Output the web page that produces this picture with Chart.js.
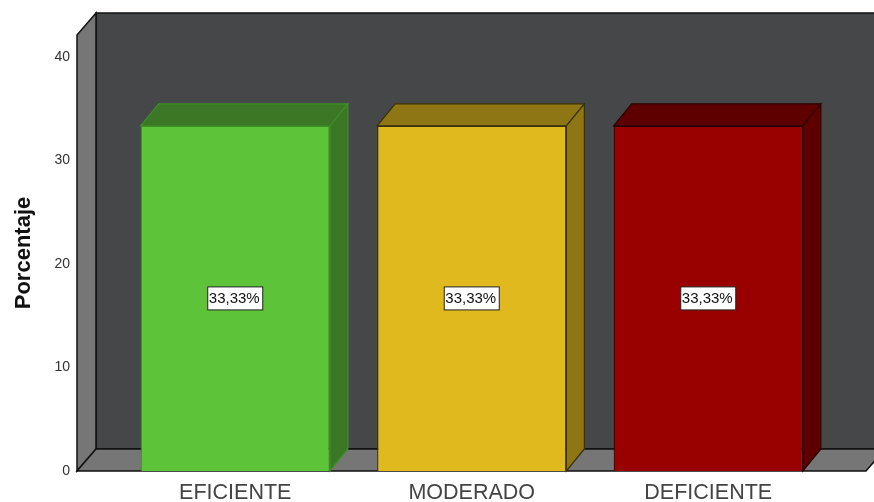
<!DOCTYPE html>
<html>
<head>
<meta charset="utf-8">
<style>
    html, body { margin: 0; padding: 0; background: #fff; overflow: hidden; }
    #wrap { width: 874px; height: 502px; }
</style>
<script src="https://cdn.jsdelivr.net/npm/chart.js@4/dist/chart.umd.min.js"></script>
</head>
<body>
<div id="wrap"><canvas id="myChart" width="874" height="502"></canvas></div>
<script>
const categories = ['EFICIENTE', 'MODERADO', 'DEFICIENTE'];
const porcentaje = [33.33, 33.33, 33.33];
const valueLabels = ['33,33%', '33,33%', '33,33%'];
const yTicks = [0, 10, 20, 30, 40];
const frontColors = ['#5dc339', '#e0b91e', '#990000'];
const sideColors = ['#3b7724', '#8e7614', '#5f0000'];
const edgeColors = ['#3f8f28', '#3a3008', '#2a0000'];

const depthX = 19;
const depthY = 22;
const barDepthX = 18;
const floorLeft = 77;
const floorRight = 866;

function poly(ctx, pts, fill, stroke, lw) {
    ctx.beginPath();
    pts.forEach((p, i) => i ? ctx.lineTo(p[0], p[1]) : ctx.moveTo(p[0], p[1]));
    ctx.closePath();
    ctx.fillStyle = fill;
    ctx.fill();
    ctx.strokeStyle = stroke;
    ctx.lineWidth = lw;
    ctx.stroke();
}

// SPSS style box: back wall, left wall, floor and the bar depth faces
const box3d = {
    id: 'box3d',
    beforeDatasetsDraw(chart) {
        const ctx = chart.ctx;
        const top = chart.chartArea.top;
        const bottom = chart.chartArea.bottom;
        ctx.save();
        poly(ctx, [[floorLeft + depthX, top - depthY], [900, top - depthY], [900, bottom - depthY], [floorLeft + depthX, bottom - depthY]], '#464749', '#111', 1.5);
        poly(ctx, [[floorLeft, top], [floorLeft + depthX, top - depthY], [floorLeft + depthX, bottom - depthY], [floorLeft, bottom]], '#767676', '#111', 1.5);
        poly(ctx, [[floorLeft, bottom], [floorLeft + depthX, bottom - depthY], [floorRight + depthX, bottom - depthY], [floorRight, bottom]], '#767676', '#111', 1.5);

        chart.getDatasetMeta(0).data.forEach((bar, i) => {
            const l = bar.x - bar.width / 2;
            const r = bar.x + bar.width / 2;
            const t = bar.y;
            const b = bar.base;
            poly(ctx, [[l, t], [l + barDepthX, t - depthY], [r + barDepthX, t - depthY], [r, t]], sideColors[i], edgeColors[i], 1.2);
            poly(ctx, [[r, t], [r + barDepthX, t - depthY], [r + barDepthX, b - depthY], [r, b]], sideColors[i], edgeColors[i], 1.2);
        });
        ctx.restore();
    },
    afterDatasetsDraw(chart) {
        const ctx = chart.ctx;
        ctx.save();
        ctx.font = '15px "Liberation Sans", Arial, sans-serif';
        ctx.textAlign = 'center';
        ctx.textBaseline = 'middle';
        chart.getDatasetMeta(0).data.forEach((bar, i) => {
            const my = (bar.y + bar.base) / 2;
            ctx.fillStyle = '#fff';
            ctx.strokeStyle = '#222';
            ctx.lineWidth = 1;
            ctx.fillRect(bar.x - 27.5, my - 11.5, 55, 23);
            ctx.strokeRect(bar.x - 27.5, my - 11.5, 55, 23);
            ctx.fillStyle = '#111';
            ctx.fillText(valueLabels[i], bar.x - 1, my + 0.5);
        });
        ctx.restore();
    }
};

const ctx = document.getElementById('myChart').getContext('2d');
const myChart = new Chart(ctx, {
    type: 'bar',
    data: {
        labels: categories,
        datasets: [
            {
                label: 'Porcentaje',
                data: porcentaje,
                backgroundColor: frontColors,
                borderColor: edgeColors,
                borderWidth: 1.2,
                barPercentage: 0.8,
                categoryPercentage: 1
            }
        ]
    },
    options: {
        responsive: false,
        animation: false,
        layout: {
            padding: { top: 35, right: 47.5, bottom: 0, left: 0 }
        },
        scales: {
            x: {
                grid: { display: false, drawTicks: false },
                border: { display: false },
                ticks: {
                    maxRotation: 0,
                    padding: 9,
                    color: '#444',
                    font: { family: '"Liberation Sans", Arial, sans-serif', size: 21.5 }
                },
                afterFit(scale) {
                    scale.height = 31;
                    scale.paddingLeft = 0;
                    scale.paddingRight = 0;
                }
            },
            y: {
                min: 0,
                max: 42.1,
                grid: { display: false, drawTicks: false },
                border: { display: false },
                afterBuildTicks(scale) { scale.ticks = yTicks.map(v => ({ value: v })); },
                ticks: {
                    padding: 47,
                    color: '#333',
                    font: { family: '"Liberation Sans", Arial, sans-serif', size: 14 }
                },
                title: {
                    display: true,
                    text: 'Porcentaje',
                    color: '#111',
                    padding: { top: 11, bottom: 0 },
                    font: { family: '"Liberation Sans", Arial, sans-serif', size: 22, weight: 'bold' }
                },
                afterFit(scale) {
                    scale.width = 117;
                    scale.paddingTop = 0;
                    scale.paddingBottom = 0;
                }
            }
        },
        plugins: {
            legend: { display: false },
            tooltip: { enabled: false }
        }
    },
    plugins: [box3d]
});
</script>
</body>
</html>
